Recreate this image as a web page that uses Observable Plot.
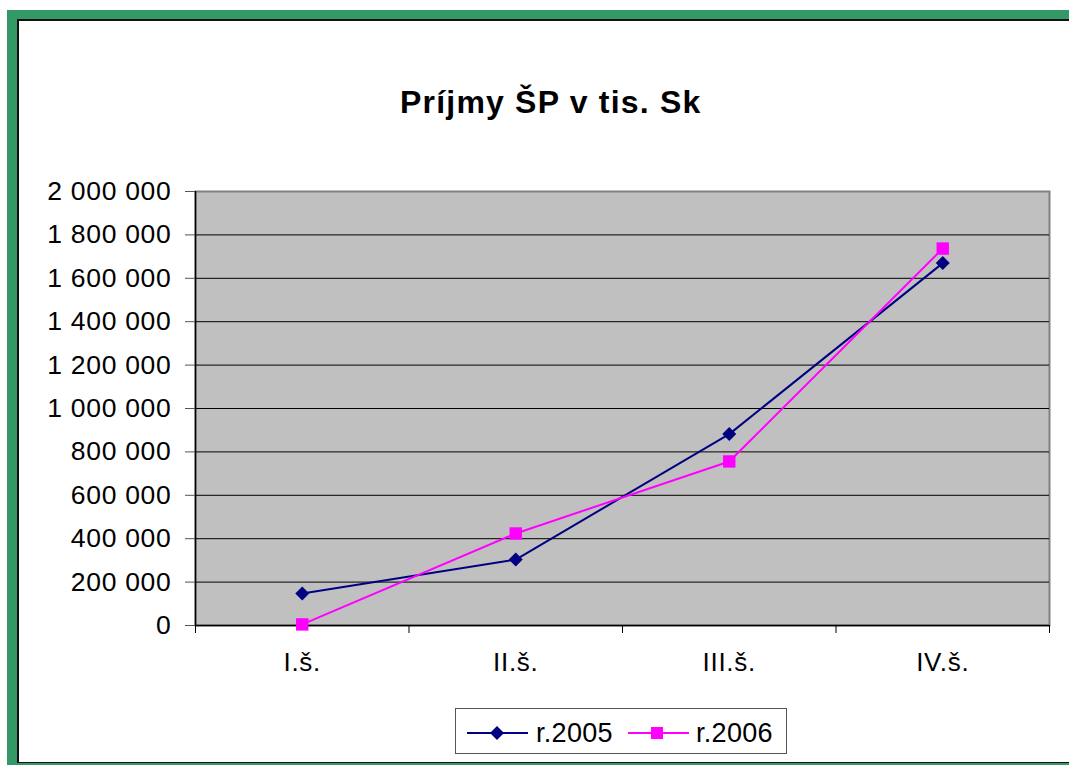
<!DOCTYPE html>
<html><head><meta charset="utf-8">
<script src="https://cdn.jsdelivr.net/npm/d3@7"></script>
<script src="https://cdn.jsdelivr.net/npm/@observablehq/plot@0.6"></script>
<style>
body{margin:0;background:#fff;width:1069px;height:765px;overflow:hidden;position:relative;font-family:"Liberation Sans",Arial,sans-serif;}
#green{position:absolute;left:7px;top:10px;width:1062px;height:755px;background:#339966;}
#inner{position:absolute;left:17px;top:19px;width:1052px;height:744px;box-sizing:border-box;background:#fff;border-top:2px solid #111;border-left:2px solid #111;border-bottom:1px solid #111;}
#title{position:absolute;left:400px;top:87px;font-size:32px;line-height:30px;font-weight:bold;letter-spacing:1.2px;white-space:nowrap;color:#000;}
#chart{position:absolute;left:0;top:170px;}
#chart svg text{letter-spacing:0.7px;}
#legend{position:absolute;left:455px;top:708px;width:332px;height:46px;box-sizing:border-box;border:1px solid #555;background:#fff;}
#legend svg{position:absolute;left:0;top:0;}
</style>
</head><body>
<div id="green"></div>
<div id="inner"></div>
<div id="title">Príjmy ŠP v tis. Sk</div>
<div id="chart"></div>
<div id="legend"></div>
<script>
const categories = ["I.š.", "II.š.", "III.š.", "IV.š."];
const seriesNames = ["r.2005", "r.2006"];
const r2005 = [147000, 304000, 882000, 1670000];
const r2006 = [5000, 424000, 756000, 1737000];
const yTicks = [0, 200000, 400000, 600000, 800000, 1000000, 1200000, 1400000, 1600000, 1800000, 2000000];
const seriesColors = ["#000080", "#ff00ff"];

const d2005 = categories.map((c, i) => ({x: i + 1, v: r2005[i], s: seriesNames[0]}));
const d2006 = categories.map((c, i) => ({x: i + 1, v: r2006[i], s: seriesNames[1]}));
const boundaries = d3.range(categories.length + 1).map(i => i + 0.5);
const fmt = d => d3.format(",")(d).replace(/,/g, " ");

const svg = Plot.plot({
  width: 1069, height: 530,
  marginLeft: 195, marginRight: 20, marginTop: 21, marginBottom: 75,
  style: {background: "transparent", color: "#000", fontFamily: "Liberation Sans, Arial, sans-serif", fontSize: "26px", overflow: "visible"},
  x: {type: "linear", domain: [0.5, categories.length + 0.5], axis: null},
  y: {domain: [0, 2000000], axis: null},
  color: {domain: seriesNames, range: seriesColors},
  marks: [
    Plot.frame({fill: "#c0c0c0", stroke: "#808080", strokeWidth: 2}),
    Plot.ruleY(yTicks.slice(1, -1), {stroke: "#000", strokeWidth: 1}),
    Plot.ruleX([0.5], {y1: 0, y2: 2000000, stroke: "#000", strokeWidth: 1.5}),
    Plot.ruleY([0], {stroke: "#000", strokeWidth: 1.5}),
    Plot.axisY({ticks: yTicks, tickSize: 10, tickPadding: 14, tickFormat: fmt, fontSize: 26.5, stroke: "#555", label: null}),
    Plot.axisX({ticks: boundaries, tickSize: 8, tickFormat: () => "", label: null}),
    Plot.axisX({ticks: categories.map((c, i) => i + 1), tickSize: 0, tickPadding: 27, fontSize: 26, tickFormat: i => categories[i - 1], label: null}),
    Plot.line(d2005, {x: "x", y: "v", stroke: "s", strokeWidth: 2}),
    Plot.line(d2006, {x: "x", y: "v", stroke: "s", strokeWidth: 2}),
    Plot.dot(d2005, {x: "x", y: "v", symbol: "diamond2", r: 6.3, fill: "s", stroke: "none"}),
    Plot.dot(d2006, {x: "x", y: "v", symbol: "square", r: 7, fill: "s", stroke: "none"})
  ]
});
document.getElementById("chart").appendChild(svg);

// legend
const lg = d3.select("#legend").append("svg").attr("width", 332).attr("height", 46);
const items = [
  {name: seriesNames[0], color: seriesColors[0], x0: 11, x1: 72, mx: 41, tx: 80, sym: "diamond"},
  {name: seriesNames[1], color: seriesColors[1], x0: 172, x1: 233, mx: 201, tx: 240, sym: "square"}
];
items.forEach(it => {
  lg.append("line").attr("x1", it.x0).attr("x2", it.x1).attr("y1", 24).attr("y2", 24).attr("stroke", it.color).attr("stroke-width", 2);
  if (it.sym === "diamond") {
    lg.append("path").attr("d", `M${it.mx},${24-7}L${it.mx+7},24L${it.mx},${24+7}L${it.mx-7},24Z`).attr("fill", it.color);
  } else {
    lg.append("rect").attr("x", it.mx - 6).attr("y", 18).attr("width", 12).attr("height", 12).attr("fill", it.color);
  }
  lg.append("text").attr("x", it.tx).attr("y", 33).attr("font-size", 27).attr("letter-spacing", "0.3px")
    .attr("font-family", "Liberation Sans, Arial, sans-serif").attr("fill", "#000").text(it.name);
});
</script>
</body></html>
